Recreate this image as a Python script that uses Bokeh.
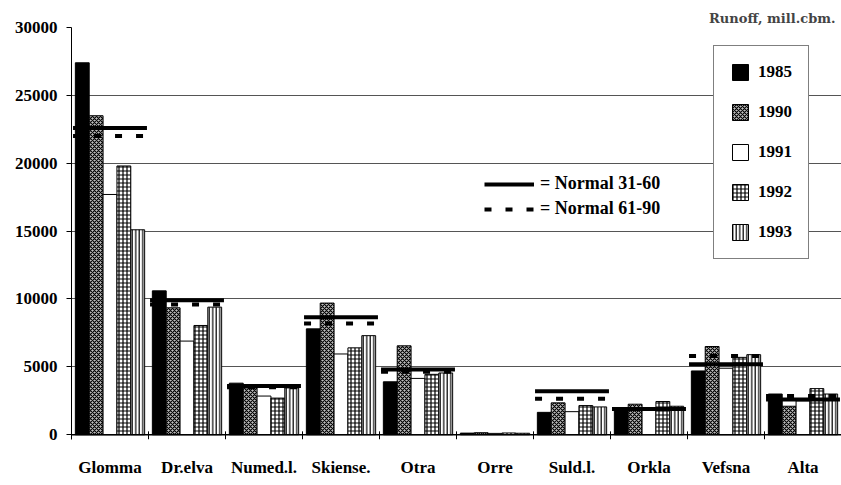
import math
from bokeh.plotting import figure
from bokeh.models import (FactorRange, Range1d, ColumnDataSource, Legend, LegendItem,
                          FixedTicker, Span, Title)
from bokeh.transform import dodge
from bokeh.embed import file_html
from bokeh.resources import INLINE

nan = float("nan")

# ---- data (mill. cbm) ----
cats = ["Glomma", "Dr.elva", "Numed.l.", "Skiense.", "Otra", "Orre",
        "Suld.l.", "Orkla", "Vefsna", "Alta"]
years = ["1985", "1990", "1991", "1992", "1993"]
r1985 = [27400, 10600, 3800, 7800, 3900, 120, 1650, 1950, 4700, 3000]
r1990 = [23500, 9350, 3450, 9700, 6550, 150, 2350, 2250, 6500, 2100]
r1991 = [17700, 6900, 2850, 5950, 4150, 100, 1700, 1800, 4900, 2500]
r1992 = [19800, 8050, 2700, 6400, 4450, 130, 2150, 2450, 5700, 3400]
r1993 = [15100, 9400, 3450, 7300, 4550, 110, 2050, 2100, 5900, 3000]
normal_31_60 = [22600, 9900, 3600, 8650, 4800, nan, 3200, 1900, 5200, 2600]
normal_61_90 = [22000, 9600, 3500, 8200, 4650, nan, 2650, 1900, 5800, 2850]
y_ticks = [0, 5000, 10000, 15000, 20000, 25000, 30000]

FONT = "Liberation Serif"

src = ColumnDataSource(dict(cat=cats, y1985=r1985, y1990=r1990, y1991=r1991,
                            y1992=r1992, y1993=r1993, n1=normal_31_60, n2=normal_61_90))
tick_src = ColumnDataSource(dict(cat=cats[:-1]))

p = figure(x_range=FactorRange(factors=cats, range_padding=0),
           y_range=Range1d(-350, 30000),
           width=841, height=484, output_backend="svg", toolbar_location=None,
           min_border_left=71, min_border_right=0, min_border_top=27,
           min_border_bottom=45, outline_line_color=None)

# grid
p.xgrid.grid_line_color = None
p.ygrid.ticker = FixedTicker(ticks=y_ticks)
p.ygrid.grid_line_color = "#555555"
p.ygrid.grid_line_width = 1

# y axis
p.yaxis.ticker = FixedTicker(ticks=y_ticks)
p.yaxis.major_tick_out = 5
p.yaxis.major_tick_in = 0
p.yaxis.minor_tick_line_color = None
p.yaxis.axis_line_color = "black"
p.yaxis.major_label_standoff = 9
p.yaxis.major_label_text_font = FONT
p.yaxis.major_label_text_font_style = "bold"
p.yaxis.major_label_text_font_size = "17px"
p.yaxis.major_label_text_color = "black"

# x axis
p.xaxis.axis_line_color = None
p.xaxis.major_tick_line_color = None
p.xaxis.major_tick_out = 0
p.xaxis.major_label_standoff = 18
p.xaxis.major_label_text_font = FONT
p.xaxis.major_label_text_font_style = "bold"
p.xaxis.major_label_text_font_size = "17px"
p.xaxis.major_label_text_color = "black"

p.add_layout(Span(location=0, dimension="width", line_color="black", line_width=1.5))

styles = [
    dict(fill_color="black"),
    dict(fill_color="#bdbdbd", hatch_pattern="x", hatch_scale=4, hatch_weight=1.1, hatch_color="black"),
    dict(fill_color="white"),
    dict(fill_color="white", hatch_pattern="+", hatch_scale=4, hatch_weight=1.2, hatch_color="black"),
    dict(fill_color="white", hatch_pattern="|", hatch_scale=3.5, hatch_weight=1.2, hatch_color="black"),
]
offsets = [-0.36, -0.18, 0.0, 0.18, 0.36]
bar_renderers = []
for yr, off, st in zip(years, offsets, styles):
    r = p.vbar(x=dodge("cat", off, range=p.x_range), top="y" + yr, bottom=0, width=0.18,
               source=src, line_color="black", line_width=1, **st)
    bar_renderers.append(r)

# normals
n1r = p.segment(x0=dodge("cat", -0.48, range=p.x_range), x1=dodge("cat", 0.48, range=p.x_range),
                y0="n1", y1="n1", source=src, line_color="black", line_width=4)
n2r = p.segment(x0=dodge("cat", -0.48, range=p.x_range), x1=dodge("cat", 0.48, range=p.x_range),
                y0="n2", y1="n2", source=src, line_color="black", line_width=4,
                line_dash="7 14")

# category boundary ticks
p.segment(x0=dodge("cat", 0.5, range=p.x_range), x1=dodge("cat", 0.5, range=p.x_range),
          y0=-350, y1=250, source=tick_src, line_color="black", line_width=1)

legend = Legend(items=[LegendItem(label=y, renderers=[r]) for y, r in zip(years, bar_renderers)],
                location=(642, 180), border_line_color="black", border_line_width=1,
                background_fill_color="white", background_fill_alpha=1,
                glyph_width=20, glyph_height=20, label_height=20, spacing=20, padding=16,
                label_standoff=8, margin=0,
                label_text_font=FONT, label_text_font_style="bold",
                label_text_font_size="17px", label_text_color="black")
p.add_layout(legend, "center")

legend2 = Legend(items=[LegendItem(label="= Normal 31-60", renderers=[n1r]),
                        LegendItem(label="= Normal 61-90", renderers=[n2r])],
                 location=(413, 220), border_line_color=None, background_fill_alpha=0,
                 glyph_width=50, glyph_height=20, label_height=20, spacing=4, padding=5,
                 label_standoff=6, margin=0,
                 label_text_font=FONT, label_text_font_style="bold",
                 label_text_font_size="18px", label_text_color="black")
p.add_layout(legend2, "center")

title = Title(text="Runoff, mill.cbm.", align="right", text_font="DejaVu Serif",
              text_font_style="bold", text_font_size="13px", standoff=4, offset=6)
p.add_layout(title, "above")

open("out.html", "w").write(file_html(p, INLINE))
